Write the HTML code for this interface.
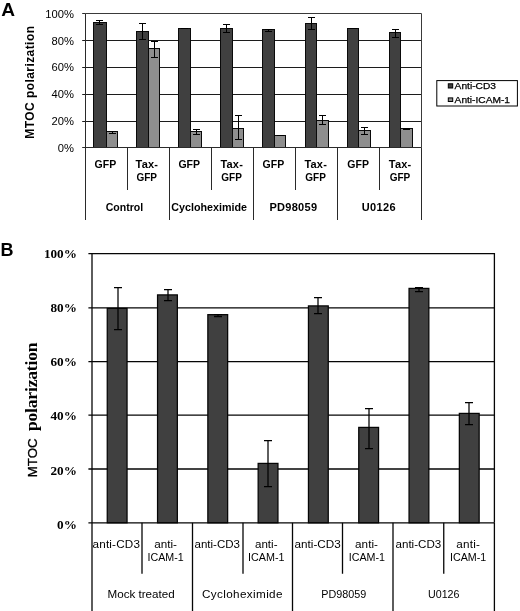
<!DOCTYPE html><html><head><meta charset="utf-8"><title>MTOC polarization</title><style>html,body{margin:0;padding:0;background:#fff}svg{display:block}text{font-family:"Liberation Sans",Arial,sans-serif;fill:#000}.b{font-weight:bold}.lg{stroke:#000;stroke-width:.25px}.s{font-family:"Liberation Serif","Times New Roman",serif;font-weight:bold}</style></head><body>
<svg width="520" height="611" viewBox="0 0 520 611">
<rect width="520" height="611" fill="#fff"/>
<g stroke="#1c1c1c" stroke-width="1" fill="none">
<line x1="82.2" y1="40.5" x2="421.5" y2="40.5"/>
<line x1="82.2" y1="67.5" x2="421.5" y2="67.5"/>
<line x1="82.2" y1="94.5" x2="421.5" y2="94.5"/>
<line x1="82.2" y1="121.5" x2="421.5" y2="121.5"/>
</g>
<path d="M85.5 13.5H421.5V147.5" stroke="#3a3a3a" stroke-width="1" fill="none"/>
<rect x="93.5" y="22.5" width="13" height="125" fill="#404040" stroke="#0a0a0a" stroke-width="1"/>
<rect x="106.5" y="131.5" width="11" height="16" fill="#8e8e8e" stroke="#0a0a0a" stroke-width="1"/>
<rect x="136.5" y="31.5" width="12" height="116" fill="#404040" stroke="#0a0a0a" stroke-width="1"/>
<rect x="148.5" y="48.5" width="11" height="99" fill="#8e8e8e" stroke="#0a0a0a" stroke-width="1"/>
<rect x="178.5" y="28.5" width="12" height="119" fill="#404040" stroke="#0a0a0a" stroke-width="1"/>
<rect x="190.5" y="131.5" width="11" height="16" fill="#8e8e8e" stroke="#0a0a0a" stroke-width="1"/>
<rect x="220.5" y="28.5" width="12" height="119" fill="#404040" stroke="#0a0a0a" stroke-width="1"/>
<rect x="232.5" y="128.5" width="11" height="19" fill="#8e8e8e" stroke="#0a0a0a" stroke-width="1"/>
<rect x="262.5" y="29.5" width="12" height="118" fill="#404040" stroke="#0a0a0a" stroke-width="1"/>
<rect x="274.5" y="135.5" width="11" height="12" fill="#8e8e8e" stroke="#0a0a0a" stroke-width="1"/>
<rect x="305.5" y="23.5" width="11" height="124" fill="#404040" stroke="#0a0a0a" stroke-width="1"/>
<rect x="316.5" y="120.5" width="12" height="27" fill="#8e8e8e" stroke="#0a0a0a" stroke-width="1"/>
<rect x="347.5" y="28.5" width="11" height="119" fill="#404040" stroke="#0a0a0a" stroke-width="1"/>
<rect x="358.5" y="130.5" width="12" height="17" fill="#8e8e8e" stroke="#0a0a0a" stroke-width="1"/>
<rect x="389.5" y="32.5" width="11" height="115" fill="#404040" stroke="#0a0a0a" stroke-width="1"/>
<rect x="400.5" y="128.5" width="12" height="19" fill="#8e8e8e" stroke="#0a0a0a" stroke-width="1"/>
<g stroke="#2a2a2a" stroke-width="1" fill="none">
<line x1="82.2" y1="13.5" x2="85.5" y2="13.5"/>
<line x1="82.2" y1="147.5" x2="421.5" y2="147.5"/>
<line x1="85.5" y1="13.5" x2="85.5" y2="220"/>
<line x1="127.5" y1="147.5" x2="127.5" y2="190"/>
<line x1="169.5" y1="147.5" x2="169.5" y2="220"/>
<line x1="211.5" y1="147.5" x2="211.5" y2="190"/>
<line x1="253.5" y1="147.5" x2="253.5" y2="220"/>
<line x1="295.5" y1="147.5" x2="295.5" y2="190"/>
<line x1="337.5" y1="147.5" x2="337.5" y2="220"/>
<line x1="379.5" y1="147.5" x2="379.5" y2="190"/>
<line x1="421.5" y1="147.5" x2="421.5" y2="220"/>
</g>
<path d="M96 20.5H103M96 24.5H103M99.5 20.5V24.5" stroke="#000" stroke-width="1" fill="none"/>
<path d="M109 131.5H116M109 133.5H116M112.5 131.5V133.5" stroke="#000" stroke-width="1" fill="none"/>
<path d="M139 23.5H146M139 39.5H146M142.5 23.5V39.5" stroke="#000" stroke-width="1" fill="none"/>
<path d="M151 41.5H158M151 57.5H158M154.5 41.5V57.5" stroke="#000" stroke-width="1" fill="none"/>
<path d="M181 28.5H188M181 28.5H188M184.5 28.5V28.5" stroke="#000" stroke-width="1" fill="none"/>
<path d="M193 129.5H200M193 134.5H200M196.5 129.5V134.5" stroke="#000" stroke-width="1" fill="none"/>
<path d="M223 24.5H230M223 32.5H230M226.5 24.5V32.5" stroke="#000" stroke-width="1" fill="none"/>
<path d="M235 115.5H242M235 139.5H242M238.5 115.5V139.5" stroke="#000" stroke-width="1" fill="none"/>
<path d="M265 29.5H272M265 31.5H272M268.5 29.5V31.5" stroke="#000" stroke-width="1" fill="none"/>
<path d="M277 135.5H284M277 135.5H284M280.5 135.5V135.5" stroke="#000" stroke-width="1" fill="none"/>
<path d="M308 17.5H315M308 29.5H315M311.5 17.5V29.5" stroke="#000" stroke-width="1" fill="none"/>
<path d="M319 115.5H326M319 124.5H326M322.5 115.5V124.5" stroke="#000" stroke-width="1" fill="none"/>
<path d="M350 28.5H357M350 28.5H357M353.5 28.5V28.5" stroke="#000" stroke-width="1" fill="none"/>
<path d="M361 127.5H368M361 134.5H368M364.5 127.5V134.5" stroke="#000" stroke-width="1" fill="none"/>
<path d="M392 29.5H399M392 37.5H399M395.5 29.5V37.5" stroke="#000" stroke-width="1" fill="none"/>
<path d="M403 128.5H410M403 129.5H410M406.5 128.5V129.5" stroke="#000" stroke-width="1" fill="none"/>
<text class="b" x="1.2" y="16" font-size="18.8" textLength="13.8" lengthAdjust="spacingAndGlyphs">A</text>
<text x="73.9" y="17.9" font-size="11.2" text-anchor="end">100%</text>
<text x="73.9" y="44.68" font-size="11.2" text-anchor="end">80%</text>
<text x="73.9" y="71.46" font-size="11.2" text-anchor="end">60%</text>
<text x="73.9" y="98.24" font-size="11.2" text-anchor="end">40%</text>
<text x="73.9" y="125.02" font-size="11.2" text-anchor="end">20%</text>
<text x="73.9" y="151.8" font-size="11.2" text-anchor="end">0%</text>
<text class="b" font-size="12" transform="translate(34.4 138.7) rotate(-90)" textLength="112.7" lengthAdjust="spacing">MTOC polarization</text>
<text class="b" x="94.6" y="168.2" font-size="11" textLength="21.6" lengthAdjust="spacingAndGlyphs">GFP</text>
<text class="b" x="178.4" y="168.2" font-size="11" textLength="21.6" lengthAdjust="spacingAndGlyphs">GFP</text>
<text class="b" x="262.6" y="168.2" font-size="11" textLength="21.6" lengthAdjust="spacingAndGlyphs">GFP</text>
<text class="b" x="347.3" y="168.2" font-size="11" textLength="21.6" lengthAdjust="spacingAndGlyphs">GFP</text>
<text class="b" x="135.55" y="168.2" font-size="11" textLength="22.4" lengthAdjust="spacing">Tax-</text>
<text class="b" x="136.45" y="180.6" font-size="11" textLength="20.6" lengthAdjust="spacingAndGlyphs">GFP</text>
<text class="b" x="220.4" y="168.2" font-size="11" textLength="22.4" lengthAdjust="spacing">Tax-</text>
<text class="b" x="221.3" y="180.6" font-size="11" textLength="20.6" lengthAdjust="spacingAndGlyphs">GFP</text>
<text class="b" x="304.4" y="168.2" font-size="11" textLength="22.4" lengthAdjust="spacing">Tax-</text>
<text class="b" x="305.3" y="180.6" font-size="11" textLength="20.6" lengthAdjust="spacingAndGlyphs">GFP</text>
<text class="b" x="388.8" y="168.2" font-size="11" textLength="22.4" lengthAdjust="spacing">Tax-</text>
<text class="b" x="389.7" y="180.6" font-size="11" textLength="20.6" lengthAdjust="spacingAndGlyphs">GFP</text>
<text class="b" x="105.75" y="210.5" font-size="11" textLength="37.5" lengthAdjust="spacingAndGlyphs">Control</text>
<text class="b" x="171.25" y="210.5" font-size="11" textLength="75.75" lengthAdjust="spacingAndGlyphs">Cycloheximide</text>
<text class="b" x="269.5" y="210.5" font-size="11" textLength="47.5" lengthAdjust="spacing">PD98059</text>
<text class="b" x="361.75" y="210.5" font-size="11" textLength="33.75" lengthAdjust="spacing">U0126</text>
<rect x="436.8" y="80.6" width="80.6" height="25.4" fill="#fff" stroke="#000" stroke-width="1"/>
<rect x="448.3" y="83.8" width="4.4" height="4.2" fill="#404040" stroke="#000" stroke-width="1"/>
<rect x="448.3" y="97.9" width="4.4" height="3.6" fill="#8e8e8e" stroke="#000" stroke-width="1"/>
<text class="lg" x="454.6" y="88.6" font-size="9.3" textLength="41.4" lengthAdjust="spacingAndGlyphs">Anti-CD3</text>
<text class="lg" x="454.6" y="102.7" font-size="9.3" textLength="55.4" lengthAdjust="spacingAndGlyphs">Anti-ICAM-1</text>
<g stroke="#050505" stroke-width="1.3" fill="none">
<line x1="88.4" y1="307.9" x2="494.4" y2="307.9"/>
<line x1="88.4" y1="361.7" x2="494.4" y2="361.7"/>
<line x1="88.4" y1="415.1" x2="494.4" y2="415.1"/>
<line x1="88.4" y1="469" x2="494.4" y2="469"/>
<path d="M88.4 253.6H494.4V522.8"/>
</g>
<rect x="107.25" y="308.4" width="19.8" height="214.4" fill="#404040" stroke="#050505" stroke-width="1.25"/>
<rect x="157.55" y="294.9" width="19.8" height="227.9" fill="#404040" stroke="#050505" stroke-width="1.25"/>
<rect x="207.85" y="314.65" width="19.8" height="208.15" fill="#404040" stroke="#050505" stroke-width="1.25"/>
<rect x="258.15" y="463.4" width="19.8" height="59.4" fill="#404040" stroke="#050505" stroke-width="1.25"/>
<rect x="308.45" y="305.9" width="19.8" height="216.9" fill="#404040" stroke="#050505" stroke-width="1.25"/>
<rect x="358.75" y="427.4" width="19.8" height="95.4" fill="#404040" stroke="#050505" stroke-width="1.25"/>
<rect x="409.05" y="288.4" width="19.8" height="234.4" fill="#404040" stroke="#050505" stroke-width="1.25"/>
<rect x="459.35" y="413.4" width="19.8" height="109.4" fill="#404040" stroke="#050505" stroke-width="1.25"/>
<g stroke="#050505" stroke-width="1.3" fill="none">
<line x1="88.4" y1="522.8" x2="494.4" y2="522.8"/>
<line x1="92" y1="253.6" x2="92" y2="611"/>
<line x1="142" y1="522.8" x2="142" y2="573.75"/>
<line x1="192.5" y1="522.8" x2="192.5" y2="611"/>
<line x1="243" y1="522.8" x2="243" y2="573.75"/>
<line x1="292.5" y1="522.8" x2="292.5" y2="611"/>
<line x1="342.5" y1="522.8" x2="342.5" y2="573.75"/>
<line x1="393" y1="522.8" x2="393" y2="611"/>
<line x1="443.75" y1="522.8" x2="443.75" y2="573.75"/>
<line x1="494.4" y1="522.8" x2="494.4" y2="611"/>
</g>
<path d="M114 287.5H122M114 329.5H122M118 287.5V329.5" stroke="#000" stroke-width="1.25" fill="none"/>
<path d="M164 289.5H172M164 300.5H172M168 289.5V300.5" stroke="#000" stroke-width="1.25" fill="none"/>
<path d="M214 314.5H222M214 316.5H222M218 314.5V316.5" stroke="#000" stroke-width="1.25" fill="none"/>
<path d="M264 440.5H272M264 486.5H272M268 440.5V486.5" stroke="#000" stroke-width="1.25" fill="none"/>
<path d="M314 297.5H322M314 313.5H322M318 297.5V313.5" stroke="#000" stroke-width="1.25" fill="none"/>
<path d="M365 408.5H373M365 448.5H373M369 408.5V448.5" stroke="#000" stroke-width="1.25" fill="none"/>
<path d="M415 287.5H423M415 291.5H423M419 287.5V291.5" stroke="#000" stroke-width="1.25" fill="none"/>
<path d="M465 402.5H473M465 424.5H473M469 402.5V424.5" stroke="#000" stroke-width="1.25" fill="none"/>
<text class="b" x="0.4" y="255.6" font-size="18">B</text>
<text class="s" x="76.9" y="257.7" font-size="13.2" text-anchor="end">100%</text>
<text class="s" x="76.9" y="311.95" font-size="13.2" text-anchor="end">80%</text>
<text class="s" x="76.9" y="366.2" font-size="13.2" text-anchor="end">60%</text>
<text class="s" x="76.9" y="420.45" font-size="13.2" text-anchor="end">40%</text>
<text class="s" x="76.9" y="474.7" font-size="13.2" text-anchor="end">20%</text>
<text class="s" x="76.9" y="528.95" font-size="13.2" text-anchor="end">0%</text>
<text font-size="13.4" stroke="#000" stroke-width="0.3" transform="translate(37.4 477.2) rotate(-90)" textLength="38.8" lengthAdjust="spacingAndGlyphs">MTOC</text>
<text class="s" font-size="17.5" transform="translate(37.3 431) rotate(-90)" textLength="88.5" lengthAdjust="spacing">polarization</text>
<text x="92.5" y="548.4" font-size="11.7" textLength="47.5" lengthAdjust="spacing">anti-CD3</text>
<text x="194.5" y="548.4" font-size="11.7" textLength="45.5" lengthAdjust="spacingAndGlyphs">anti-CD3</text>
<text x="294.5" y="548.4" font-size="11.7" textLength="46.25" lengthAdjust="spacing">anti-CD3</text>
<text x="395.5" y="548.4" font-size="11.7" textLength="45.75" lengthAdjust="spacingAndGlyphs">anti-CD3</text>
<text x="154.25" y="548.4" font-size="11.7" textLength="22.75" lengthAdjust="spacingAndGlyphs">anti-</text>
<text x="255" y="548.4" font-size="11.7" textLength="22.5" lengthAdjust="spacingAndGlyphs">anti-</text>
<text x="355" y="548.4" font-size="11.7" textLength="23" lengthAdjust="spacing">anti-</text>
<text x="456.25" y="548.4" font-size="11.7" textLength="23.75" lengthAdjust="spacing">anti-</text>
<text x="147.5" y="560.6" font-size="11.7" textLength="36.25" lengthAdjust="spacingAndGlyphs">ICAM-1</text>
<text x="248" y="560.6" font-size="11.7" textLength="36.5" lengthAdjust="spacingAndGlyphs">ICAM-1</text>
<text x="348.75" y="560.6" font-size="11.7" textLength="36.25" lengthAdjust="spacingAndGlyphs">ICAM-1</text>
<text x="450" y="560.6" font-size="11.7" textLength="36.25" lengthAdjust="spacingAndGlyphs">ICAM-1</text>
<text x="107.5" y="597.5" font-size="11.7" textLength="67.2" lengthAdjust="spacingAndGlyphs">Mock treated</text>
<text x="202" y="597.5" font-size="11.7" textLength="80.5" lengthAdjust="spacing">Cycloheximide</text>
<text x="321.25" y="597.5" font-size="11.7" textLength="45" lengthAdjust="spacingAndGlyphs">PD98059</text>
<text x="428" y="597.5" font-size="11.7" textLength="31.5" lengthAdjust="spacingAndGlyphs">U0126</text>
</svg></body></html>
